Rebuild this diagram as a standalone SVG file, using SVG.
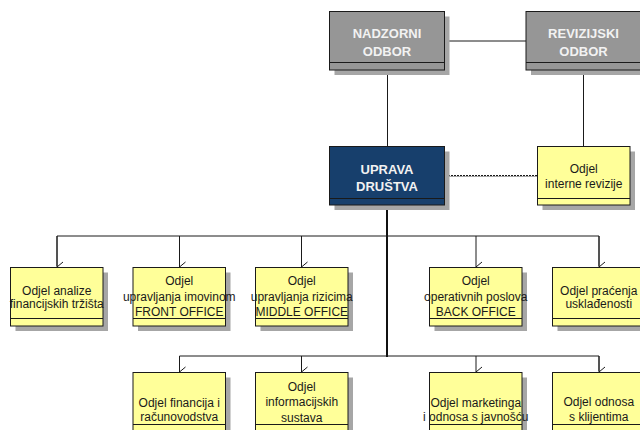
<svg xmlns="http://www.w3.org/2000/svg" width="640" height="430" viewBox="0 0 640 430">
<defs>
<style>
.sh{fill:#a6a6a6;stroke:none}
.gray{fill:#969696;stroke:#1a1a1a;stroke-width:1}
.blue{fill:#173f6c;stroke:#1a1a1a;stroke-width:1}
.yel{fill:#ffff99;stroke:#1a1a1a;stroke-width:1}
.band{stroke:#1a1a1a;stroke-width:1}
.wt{font-family:"Liberation Sans",Arial,sans-serif;font-size:13px;font-weight:bold;fill:#f2f2f2;text-anchor:middle}
.t{font-family:"Liberation Sans",Arial,sans-serif;font-size:12px;fill:#1a1a1a;text-anchor:middle}
.ln{stroke:#1a1a1a;stroke-width:1;fill:none}
.lns{stroke:#a6a6a6;stroke-width:1;fill:none}
.thick{stroke:#111;stroke-width:2;fill:none}
</style>
<marker id="ar" markerWidth="12" markerHeight="8" refX="6" refY="7" orient="auto" markerUnits="userSpaceOnUse" viewBox="0 0 12 8">
<path d="M1,1 L6,7 L11,1" fill="none" stroke="#1a1a1a" stroke-width="1"/>
</marker>
</defs>

<g id="connectors">
<line class="ln" x1="444.5" y1="41" x2="526" y2="41"/>
<line class="ln" x1="387.5" y1="70" x2="387.5" y2="146.5"/>
<line class="ln" x1="583.5" y1="70" x2="583.5" y2="146.5"/>
<line x1="445" y1="176.5" x2="537" y2="176.5" stroke="#a6a6a6" stroke-width="1"/>
<line x1="445" y1="175.5" x2="537" y2="175.5" stroke="#1a1a1a" stroke-width="1" stroke-dasharray="2 1"/>
<line class="thick" x1="387" y1="205" x2="387" y2="357"/>
<path class="ln" d="M57,266 V236 H599 V266"/>
<line class="ln" x1="57" y1="236" x2="57" y2="267" marker-end="url(#ar)"/>
<line class="ln" x1="179.5" y1="236" x2="179.5" y2="267" marker-end="url(#ar)"/>
<line class="ln" x1="301.5" y1="236" x2="301.5" y2="267" marker-end="url(#ar)"/>
<line class="ln" x1="476" y1="236" x2="476" y2="267" marker-end="url(#ar)"/>
<line class="ln" x1="599" y1="236" x2="599" y2="267" marker-end="url(#ar)"/>
<path class="ln" d="M179.5,371 V356 H599 V371"/>
<line class="ln" x1="179.5" y1="356" x2="179.5" y2="372" marker-end="url(#ar)"/>
<line class="ln" x1="301.5" y1="356" x2="301.5" y2="372" marker-end="url(#ar)"/>
<line class="ln" x1="476" y1="356" x2="476" y2="372" marker-end="url(#ar)"/>
<line class="ln" x1="599" y1="356" x2="599" y2="372" marker-end="url(#ar)"/>
</g>

<g id="nadzorni">
<rect class="sh" x="334.5" y="16.5" width="115" height="58.5"/>
<rect class="gray" x="329.5" y="11.5" width="115" height="58.5"/>
<line class="band" x1="329.5" y1="62.5" x2="444.5" y2="62.5"/>
<text class="wt" x="387" y="37.5">NADZORNI</text>
<text class="wt" x="387" y="55.5">ODBOR</text>
</g>

<g id="revizijski">
<rect class="sh" x="531" y="16.5" width="115" height="58.5"/>
<rect class="gray" x="526" y="11.5" width="115" height="58.5"/>
<line class="band" x1="526" y1="62.5" x2="641" y2="62.5"/>
<text class="wt" x="583.5" y="37.5">REVIZIJSKI</text>
<text class="wt" x="583.5" y="55.5">ODBOR</text>
</g>

<g id="uprava">
<rect class="sh" x="334.5" y="151.5" width="115" height="58.5"/>
<rect class="blue" x="329.5" y="146.5" width="115" height="58.5"/>
<line class="band" x1="329.5" y1="198.5" x2="444.5" y2="198.5"/>
<text class="wt" x="387" y="174">UPRAVA</text>
<text class="wt" x="387" y="191">DRUŠTVA</text>
</g>

<g id="interne">
<rect class="sh" x="542.5" y="151.5" width="92.5" height="58.5"/>
<rect class="yel" x="537.5" y="146.5" width="92.5" height="58.5"/>
<line class="band" x1="537.5" y1="198.5" x2="630" y2="198.5"/>
<text class="t" x="583.75" y="172.5">Odjel</text>
<text class="t" x="583.75" y="188">interne revizije</text>
</g>

<g id="analize">
<rect class="sh" x="15.5" y="272.5" width="92.5" height="58.5"/>
<rect class="yel" x="10.5" y="267.5" width="92.5" height="58.5"/>
<line class="band" x1="10.5" y1="318.5" x2="103" y2="318.5"/>
<text class="t" x="56.75" y="295">Odjel analize</text>
<text class="t" x="56.75" y="307.5">financijskih tržišta</text>
</g>

<g id="imovina">
<rect class="sh" x="138" y="272.5" width="92.5" height="58.5"/>
<rect class="yel" x="133" y="267.5" width="92.5" height="58.5"/>
<line class="band" x1="133" y1="318.5" x2="225.5" y2="318.5"/>
<text class="t" x="179.25" y="285">Odjel</text>
<text class="t" x="179.25" y="300.5">upravljanja imovinom</text>
<text class="t" x="179.25" y="316">FRONT OFFICE</text>
</g>

<g id="rizici">
<rect class="sh" x="260.5" y="272.5" width="92.5" height="58.5"/>
<rect class="yel" x="255.5" y="267.5" width="92.5" height="58.5"/>
<line class="band" x1="255.5" y1="318.5" x2="348" y2="318.5"/>
<text class="t" x="301.75" y="285">Odjel</text>
<text class="t" x="301.75" y="300.5">upravljanja rizicima</text>
<text class="t" x="301.75" y="316">MIDDLE OFFICE</text>
</g>

<g id="operativni">
<rect class="sh" x="434.5" y="272.5" width="92.5" height="58.5"/>
<rect class="yel" x="429.5" y="267.5" width="92.5" height="58.5"/>
<line class="band" x1="429.5" y1="318.5" x2="522" y2="318.5"/>
<text class="t" x="475.75" y="285">Odjel</text>
<text class="t" x="475.75" y="300.5">operativnih poslova</text>
<text class="t" x="475.75" y="316">BACK OFFICE</text>
</g>

<g id="uskladenost">
<rect class="sh" x="557.5" y="272.5" width="92.5" height="58.5"/>
<rect class="yel" x="552.5" y="267.5" width="92.5" height="58.5"/>
<line class="band" x1="552.5" y1="318.5" x2="645" y2="318.5"/>
<text class="t" x="598.75" y="295">Odjel praćenja</text>
<text class="t" x="598.75" y="307.5">usklađenosti</text>
</g>

<g id="financije">
<rect class="sh" x="138" y="377.5" width="92.5" height="58.5"/>
<rect class="yel" x="133" y="372.5" width="92.5" height="58.5"/>
<line class="band" x1="133" y1="424.5" x2="225.5" y2="424.5"/>
<text class="t" x="179.25" y="406.5">Odjel financija i</text>
<text class="t" x="179.25" y="421">računovodstva</text>
</g>

<g id="informacijski">
<rect class="sh" x="260.5" y="377.5" width="92.5" height="58.5"/>
<rect class="yel" x="255.5" y="372.5" width="92.5" height="58.5"/>
<line class="band" x1="255.5" y1="424.5" x2="348" y2="424.5"/>
<text class="t" x="301.75" y="391">Odjel</text>
<text class="t" x="301.75" y="406">informacijskih</text>
<text class="t" x="301.75" y="421.5">sustava</text>
</g>

<g id="marketing">
<rect class="sh" x="434.5" y="377.5" width="92.5" height="58.5"/>
<rect class="yel" x="429.5" y="372.5" width="92.5" height="58.5"/>
<line class="band" x1="429.5" y1="424.5" x2="522" y2="424.5"/>
<text class="t" x="475.75" y="406.5">Odjel marketinga</text>
<text class="t" x="475.75" y="421">i odnosa  s javnošću</text>
</g>

<g id="klijenti">
<rect class="sh" x="557.5" y="377.5" width="92.5" height="58.5"/>
<rect class="yel" x="552.5" y="372.5" width="92.5" height="58.5"/>
<line class="band" x1="552.5" y1="424.5" x2="645" y2="424.5"/>
<text class="t" x="598.75" y="406">Odjel odnosa</text>
<text class="t" x="598.75" y="421">s klijentima</text>
</g>
</svg>
